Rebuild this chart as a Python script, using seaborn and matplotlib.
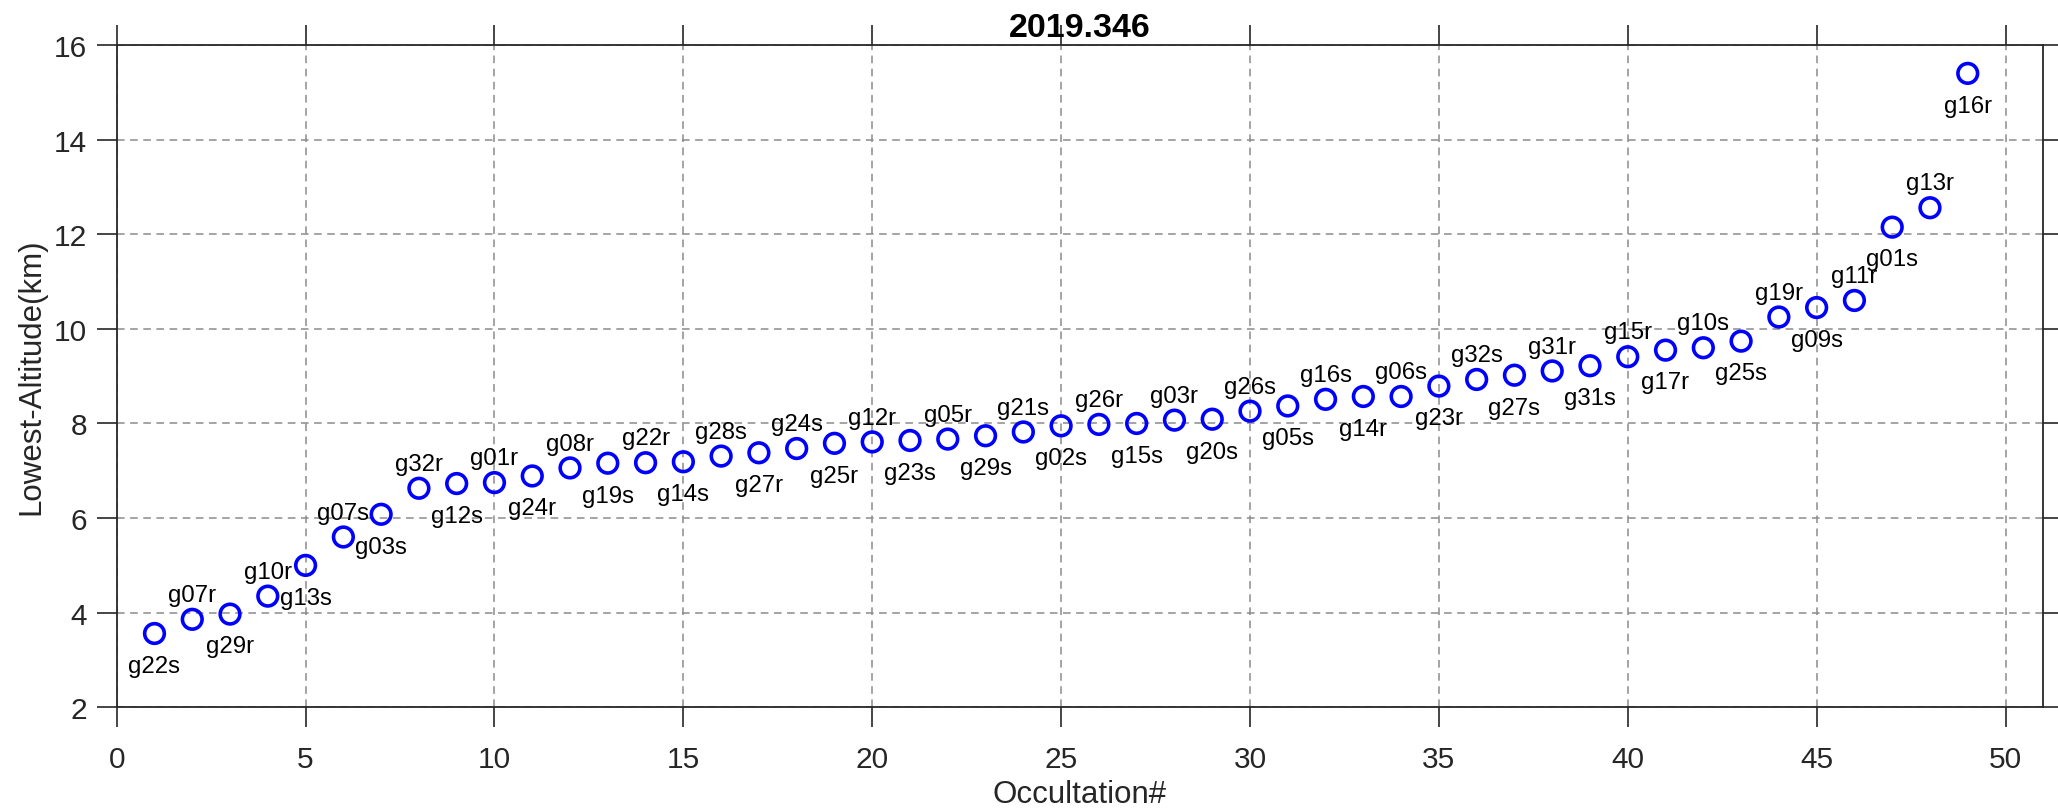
import matplotlib
matplotlib.use("Agg")
import matplotlib.pyplot as plt
import seaborn as sns
import numpy as np
import pandas as pd

# ---- data ----
occultation = list(range(1, 50))
lowest_altitude = [3.56, 3.86, 3.97, 4.35, 5.00, 5.60, 6.08, 6.63, 6.73, 6.75,
                   6.89, 7.06, 7.16, 7.17, 7.19, 7.31, 7.38, 7.47, 7.58, 7.61,
                   7.64, 7.67, 7.74, 7.82, 7.95, 7.98, 8.00, 8.07, 8.09, 8.26,
                   8.37, 8.51, 8.57, 8.57, 8.79, 8.93, 9.02, 9.11, 9.22, 9.41,
                   9.55, 9.60, 9.74, 10.25, 10.45, 10.60, 12.15, 12.56, 15.40]
prn_labels = ["g22s", "g07r", "g29r", "g10r", "g13s", "g07s", "g03s", "g32r", "g12s", "g01r",
              "g24r", "g08r", "g19s", "g22r", "g14s", "g28s", "g27r", "g24s", "g25r", "g12r",
              "g23s", "g05r", "g29s", "g21s", "g02s", "g26r", "g15s", "g03r", "g20s", "g26s",
              "g05s", "g16s", "g14r", "g06s", "g23r", "g32s", "g27s", "g31r", "g31s", "g15r",
              "g17r", "g10s", "g25s", "g19r", "g09s", "g11r", "g01s", "g13r", "g16r"]
x_ticks = [0, 5, 10, 15, 20, 25, 30, 35, 40, 45, 50]
y_ticks = [2, 4, 6, 8, 10, 12, 14, 16]
title_text = "2019.346"
x_label = "Occultation#"
y_label = "Lowest-Altitude(km)"

df = pd.DataFrame({"occ": occultation, "alt": lowest_altitude, "lab": prn_labels})

# ---- style ----
sns.set_theme(style="white")
plt.rcParams["font.family"] = ["Liberation Sans", "DejaVu Sans"]
dark = "#262626"

W, H = 2058, 812
fig = plt.figure(figsize=(W / 100, H / 100), dpi=100)
ax = fig.add_axes([116.7 / W, 1 - 708.3 / H, (2043.3 - 116.7) / W, (708.3 - 46) / H])

ax.set_axisbelow(True)
ax.grid(True, linestyle=(0, (5, 3.6)), color="#8c8c8c", linewidth=1.1)

sns.scatterplot(data=df, x="occ", y="alt", ax=ax, marker="o", s=200,
                facecolors="none", edgecolor="#0000ff", linewidth=2.6, zorder=3)

for i, row in df.iterrows():
    below = (i % 2 == 0)
    ax.annotate(row["lab"], (row["occ"], row["alt"]),
                xytext=(0, -27.6 if below else 13.2), textcoords="offset points",
                ha="center", va="baseline", fontsize=17.3, color="black", zorder=4)

ax.set_xlim(0, 51)
ax.set_ylim(2, 16)
ax.set_xticks(x_ticks)
ax.set_yticks(y_ticks)

for sp in ax.spines.values():
    sp.set_visible(True)
    sp.set_color(dark)
    sp.set_linewidth(1.3)

ax.tick_params(axis="both", which="major", direction="out", length=14.4, width=1.2,
               color=dark, labelcolor=dark, labelsize=21.5, top=True, right=True,
               bottom=True, left=True, labeltop=False, labelright=False)
ax.tick_params(axis="x", pad=13)
ax.tick_params(axis="y", pad=7)

ax.set_xlabel(x_label, fontsize=22.5, color=dark, labelpad=4)
ax.set_ylabel(y_label, fontsize=22.5, color=dark, labelpad=5)
ax.set_title(title_text, fontsize=24.5, fontweight="bold", color="black",
             y=1 + 9.3 / 662.3, pad=0, va="baseline")

fig.savefig("out.png", dpi=100)
